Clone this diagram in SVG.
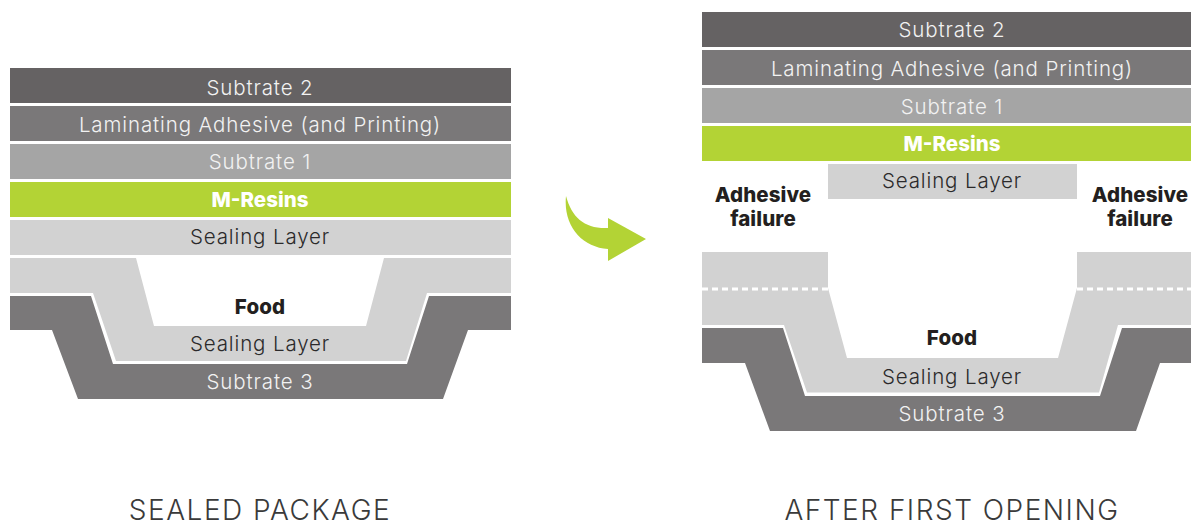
<svg xmlns="http://www.w3.org/2000/svg" width="1191" height="522" viewBox="0 0 1191 522">
<style>
text{font-family:"Inter","Liberation Sans",sans-serif;text-anchor:middle;font-size:20.5px}
.l{font-weight:300;fill:#f2f2f2;letter-spacing:.88px}
.d{font-weight:300;fill:#2b2a2b;letter-spacing:.88px}
.b{font-weight:800;fill:#231f20;letter-spacing:.1px}
.w{font-weight:800;fill:#fff}
.c{font-weight:300;fill:#3a3a3a;font-size:28px;letter-spacing:1.5px}
.s2{fill:#656263}.la{fill:#7a7879}.s1{fill:#a5a5a5}.m{fill:#b3d335}.se{fill:#d2d2d2}
.dash{stroke:#fff;stroke-width:3;stroke-dasharray:6 4;fill:none}
</style>
<rect width="1191" height="522" fill="#fff"/>
<g id="sealed-package">
<g id="left-substrate-2"><rect class="s2" x="10" y="68" width="501" height="35"/><text class="l" x="260" y="95">Subtrate 2</text></g>
<g id="left-adhesive"><rect class="la" x="10" y="106" width="501" height="35"/><text class="l" x="260" y="132">Laminating Adhesive (and Printing)</text></g>
<g id="left-substrate-1"><rect class="s1" x="10" y="144" width="501" height="35"/><text class="l" x="260" y="169">Subtrate 1</text></g>
<g id="left-resins"><rect class="m" x="10" y="182" width="501" height="35"/><text class="w" x="260" y="207">M-Resins</text></g>
<g id="left-sealing-top"><rect class="se" x="10" y="220" width="501" height="35"/><text class="d" x="260" y="244">Sealing Layer</text></g>
<g id="left-sealing-tray"><polygon class="se" points="10,258 136,258 154,326 366,326 384,258 511,258 511,293 427,293 406,361 116,361 93,293 10,293"/><text class="d" x="260" y="351">Sealing Layer</text></g>
<g id="left-food"><text class="b" x="260" y="314">Food</text></g>
<g id="left-substrate-3"><polygon class="la" points="10,296 91,296 113,364 407,364 429,296 511,296 511,330 468,330 443,399 78,399 52,330 10,330"/><text class="l" x="260" y="389">Subtrate 3</text></g>
<text class="c" x="260" y="520">SEALED PACKAGE</text>
</g>
<g id="connectors"><path class="m" d="M566,196 C572,218 585,229 608,228 L608,218 L646,239 L608,261 L608,249 C582,247 563,226 566,196 Z"/></g>
<g id="after-opening">
<g id="right-substrate-2"><rect class="s2" x="702" y="12" width="489" height="35"/><text class="l" x="952" y="37">Subtrate 2</text></g>
<g id="right-adhesive"><rect class="la" x="702" y="50" width="489" height="35"/><text class="l" x="952" y="76">Laminating Adhesive (and Printing)</text></g>
<g id="right-substrate-1"><rect class="s1" x="702" y="88" width="489" height="35"/><text class="l" x="952" y="114">Subtrate 1</text></g>
<g id="right-resins"><rect class="m" x="702" y="126" width="489" height="35"/><text class="w" x="952" y="151">M-Resins</text></g>
<g id="right-sealing-top"><rect class="se" x="828" y="164" width="249" height="35"/><text class="d" x="952" y="188">Sealing Layer</text></g>
<g id="right-failure-left"><text class="b" x="763" y="202">Adhesive</text><text class="b" x="763" y="226">failure</text></g>
<g id="right-failure-right"><text class="b" x="1140" y="202">Adhesive</text><text class="b" x="1140" y="226">failure</text></g>
<g id="right-sealing-remnants"><rect class="se" x="702" y="252" width="126" height="36"/><rect class="se" x="1077" y="252" width="114" height="36"/></g>
<g id="right-sealing-tray"><polygon class="se" points="702,288 828,288 847,358 1058,358 1077,288 1191,288 1191,325 1118,325 1099,392.500 807,392.500 784,325 702,325"/><text class="d" x="952" y="384">Sealing Layer</text></g>
<line class="dash" x1="702" y1="289" x2="829" y2="289"/>
<line class="dash" x1="1077" y1="289" x2="1191" y2="289"/>
<g id="right-food"><text class="b" x="952" y="345">Food</text></g>
<g id="right-substrate-3"><polygon class="la" points="702,328 783,328 805,396 1100,396 1122,328 1191,328 1191,363 1160,363 1136,431 770,431 745,363 702,363"/><text class="l" x="952" y="421">Subtrate 3</text></g>
<text class="c" x="952" y="520">AFTER FIRST OPENING</text>
</g>
</svg>
